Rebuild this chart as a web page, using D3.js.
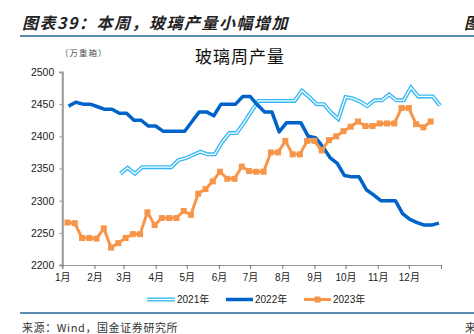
<!DOCTYPE html>
<html>
<head>
<meta charset="utf-8">
<script src="https://cdn.jsdelivr.net/npm/d3@7"></script>
<style>
  html, body { margin: 0; padding: 0; background: #fff; }
  svg { display: block; }
</style>
</head>
<body>
<svg id="chart" width="474" height="334"></svg>
<script>
// Weekly flat-glass output (10k weight cases), one series per year
const seriesNames = ["2021年", "2022年", "2023年"];
const seriesStarts = ["2021-02-26", "2022-01-07", "2023-01-06"];

const values2021 = [
  2342, 2351, 2342, 2352, 2352, 2352, 2352, 2352, 2363, 2366,
  2371, 2376, 2372, 2372, 2391, 2405, 2405, 2421, 2438, 2455,
  2455, 2455, 2455, 2455, 2455, 2471, 2461, 2450, 2450, 2437,
  2427, 2461, 2459, 2454, 2447, 2456, 2456, 2465, 2456, 2456,
  2476, 2462, 2462, 2462, 2448
];
const values2022 = [
  2447, 2453, 2450, 2450, 2446, 2442, 2442, 2436, 2436, 2425,
  2425, 2416, 2416, 2408, 2408, 2408, 2408, 2423, 2438, 2438,
  2432, 2450, 2450, 2450, 2462, 2462, 2449, 2438, 2438, 2407,
  2421, 2421, 2421, 2400, 2398, 2384, 2367, 2358, 2339, 2337,
  2337, 2317, 2309, 2300, 2300, 2300, 2280, 2271, 2266, 2262,
  2262, 2265
];
const values2023 = [
  2266, 2265, 2242, 2242, 2241, 2257, 2227, 2234, 2242, 2248,
  2248, 2282, 2262, 2273, 2273, 2273, 2284, 2278, 2311, 2318,
  2330, 2345, 2334, 2334, 2353, 2346, 2345, 2345, 2375, 2375,
  2393, 2372, 2372, 2393, 2393, 2378, 2394, 2400, 2408, 2415,
  2423, 2416, 2416, 2420, 2420, 2420, 2444, 2444, 2419, 2414,
  2423
];
const yTicks = [2200, 2250, 2300, 2350, 2400, 2450, 2500];
const monthLabels = ["1月","2月","3月","4月","5月","6月","7月","8月","9月","10月","11月","12月"];

const svg = d3.select("#chart");
const parse = d3.timeParse("%Y-%m-%d");

// every series is laid onto one calendar year by month/day
const axisYear = 2023;
const onAxis = d => new Date(axisYear, d.getMonth(), d.getDate());

function weekly(startStr, vals) {
  const s = parse(startStr);
  return vals.map((v, i) => ({ date: onAxis(d3.timeDay.offset(s, 7 * i)), value: v }));
}
const data = [
  weekly(seriesStarts[0], values2021),
  weekly(seriesStarts[1], values2022),
  weekly(seriesStarts[2], values2023)
];

const x = d3.scaleTime()
  .domain([new Date(axisYear, 0, 1), new Date(axisYear + 1, 0, 1)])
  .range([62.3, 441]);
const y = d3.scaleLinear().domain([2200, 2500]).range([265, 72]);

const FONT = "'Liberation Sans', Arial, 'Noto Sans CJK SC', sans-serif";
const CJK = "'Noto Sans CJK SC', sans-serif";

// header
svg.append("text")
  .attr("x", 22).attr("y", 29)
  .attr("font-family", CJK).attr("font-size", 16).attr("font-weight", 700)
  .attr("font-style", "italic").attr("letter-spacing", 1.5).attr("fill", "#222")
  .text("图表39：本周，玻璃产量小幅增加");
svg.append("text")
  .attr("x", 464).attr("y", 29)
  .attr("font-family", CJK).attr("font-size", 16).attr("font-weight", 700)
  .attr("font-style", "italic").attr("fill", "#222")
  .text("图");
svg.append("line")
  .attr("x1", 20).attr("x2", 474).attr("y1", 36).attr("y2", 36)
  .attr("stroke", "#5b8db0").attr("stroke-width", 2);

svg.append("text")
  .attr("x", 60).attr("y", 56)
  .attr("font-family", CJK).attr("font-size", 8.5).attr("letter-spacing", 1)
  .attr("fill", "#555").text("（万重箱）");
svg.append("text")
  .attr("x", 240).attr("y", 63).attr("text-anchor", "middle")
  .attr("font-family", CJK).attr("font-size", 17).attr("letter-spacing", 1)
  .attr("fill", "#111").text("玻璃周产量");

// axes
const yAxis = d3.axisLeft(y).tickValues(yTicks).tickFormat(d3.format("d")).tickSize(3).tickPadding(5);
const gy = svg.append("g").attr("transform", `translate(${x.range()[0]},0)`).call(yAxis);
gy.select(".domain").attr("stroke", "#999").attr("stroke-width", 2);
gy.selectAll(".tick line").attr("stroke", "#999");
gy.selectAll(".tick text").attr("font-family", FONT).attr("font-size", 10.5).attr("fill", "#222");

const monthTicks = d3.range(12).map(m => new Date(axisYear, m, 1)).concat([new Date(axisYear + 1, 0, 1)]);
const xAxis = d3.axisBottom(x).tickValues(monthTicks).tickSize(4).tickPadding(5)
  .tickFormat((d, i) => i < 12 ? monthLabels[i] : "");
const gx = svg.append("g").attr("transform", `translate(0,${y.range()[0]})`).call(xAxis);
gx.select(".domain").attr("stroke", "#999").attr("stroke-width", 1);
gx.selectAll(".tick line").attr("stroke", "#777");
gx.selectAll(".tick text").attr("font-family", FONT).attr("font-size", 10).attr("fill", "#222");

const line = d3.line().x(d => x(d.date)).y(d => y(d.value));

const C21 = "#36b9f2", C22 = "#0063c9", C23 = "#f7964a";

// 2021: hollow double line
svg.append("path").datum(data[0]).attr("d", line)
  .attr("fill", "none").attr("stroke", C21).attr("stroke-width", 4).attr("stroke-linejoin", "miter");
svg.append("path").datum(data[0]).attr("d", line)
  .attr("fill", "none").attr("stroke", "#fff").attr("stroke-width", 1.3).attr("stroke-linejoin", "miter");

// 2022: heavy solid line
svg.append("path").datum(data[1]).attr("d", line)
  .attr("fill", "none").attr("stroke", C22).attr("stroke-width", 3.5).attr("stroke-linejoin", "round");

// 2023: line with square markers
svg.append("path").datum(data[2]).attr("d", line)
  .attr("fill", "none").attr("stroke", C23).attr("stroke-width", 3).attr("stroke-linejoin", "round");
svg.append("g").selectAll("rect").data(data[2]).join("rect")
  .attr("x", d => x(d.date) - 3).attr("y", d => y(d.value) - 3)
  .attr("width", 6).attr("height", 6).attr("fill", C23);

// legend
const legend = svg.append("g").attr("font-family", FONT).attr("font-size", 10).attr("fill", "#222");
const legItems = [
  { x0: 147, x1: 175, tx: 177 },
  { x0: 226, x1: 253, tx: 255 },
  { x0: 304, x1: 331, tx: 333 }
];
const ly = 299.5;
legend.append("line").attr("x1", legItems[0].x0).attr("x2", legItems[0].x1).attr("y1", ly).attr("y2", ly)
  .attr("stroke", C21).attr("stroke-width", 4);
legend.append("line").attr("x1", legItems[0].x0).attr("x2", legItems[0].x1).attr("y1", ly).attr("y2", ly)
  .attr("stroke", "#fff").attr("stroke-width", 1.3);
legend.append("line").attr("x1", legItems[1].x0).attr("x2", legItems[1].x1).attr("y1", ly).attr("y2", ly)
  .attr("stroke", C22).attr("stroke-width", 3.5);
legend.append("line").attr("x1", legItems[2].x0).attr("x2", legItems[2].x1).attr("y1", ly).attr("y2", ly)
  .attr("stroke", C23).attr("stroke-width", 3);
legend.append("rect").attr("x", (legItems[2].x0 + legItems[2].x1) / 2 - 3).attr("y", ly - 3)
  .attr("width", 6).attr("height", 6).attr("fill", C23);
legItems.forEach((it, i) => {
  legend.append("text").attr("x", it.tx).attr("y", ly + 3.8).text(seriesNames[i]);
});

// footer
svg.append("line")
  .attr("x1", 20).attr("x2", 474).attr("y1", 313).attr("y2", 313)
  .attr("stroke", "#5b8db0").attr("stroke-width", 2);
svg.append("text")
  .attr("x", 22).attr("y", 332)
  .attr("font-family", "'Noto Sans CJK SC', 'DejaVu Sans Mono', monospace").attr("font-size", 11)
  .attr("letter-spacing", 0.6).attr("fill", "#333")
  .text("来源：Wind，国金证券研究所");
svg.append("text")
  .attr("x", 465).attr("y", 332)
  .attr("font-family", CJK).attr("font-size", 11).attr("fill", "#333")
  .text("来");
</script>
</body>
</html>
